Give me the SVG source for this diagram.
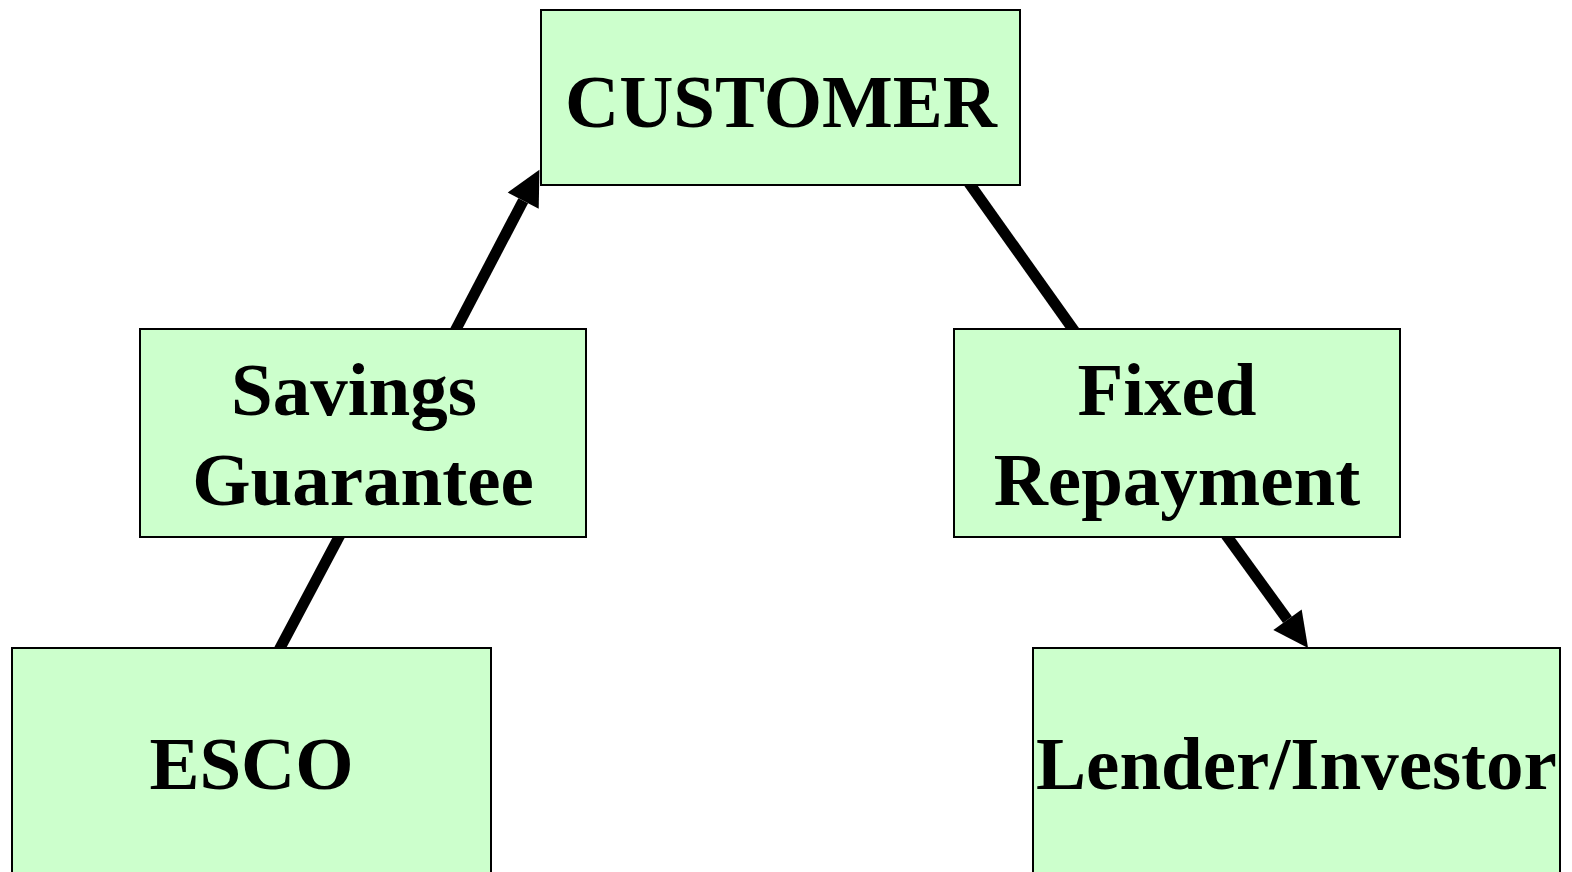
<svg xmlns="http://www.w3.org/2000/svg" width="1572" height="872" viewBox="0 0 1572 872">
  <style>
    .box { fill: #CCFFCC; stroke: #000; stroke-width: 2; }
    .lbl { font-family: "Liberation Serif", "Times New Roman", serif; font-weight: bold; font-size: 75px; fill: #000; text-anchor: middle; }
    .conn { stroke: #000; stroke-width: 11; fill: none; stroke-linecap: butt; }
  </style>
  <defs>
    <marker id="head" markerUnits="userSpaceOnUse" markerWidth="36" markerHeight="36" refX="0" refY="17.5" orient="auto" overflow="visible">
      <path d="M0,0 L35,17.5 L0,35 Z" fill="#000"/>
    </marker>
  </defs>
  <rect width="1572" height="872" fill="#fff"/>

  <!-- connectors -->
  <g id="connectors">
    <line class="conn" x1="279" y1="650" x2="340" y2="535"/>
    <line class="conn" x1="454" y1="333" x2="523.2" y2="200.7" marker-end="url(#head)"/>
    <line class="conn" x1="969" y1="183" x2="1075" y2="332"/>
    <line class="conn" x1="1226" y1="535" x2="1287.5" y2="619.7" marker-end="url(#head)"/>
  </g>

  <g id="customer">
    <rect class="box" x="541" y="10" width="479" height="175"/>
    <text class="lbl" x="781" y="127">CUSTOMER</text>
  </g>
  <g id="savings-guarantee">
    <rect class="box" x="140" y="329" width="446" height="208"/>
    <text class="lbl" x="354" y="415">Savings</text>
    <text class="lbl" x="363" y="505">Guarantee</text>
  </g>
  <g id="fixed-repayment">
    <rect class="box" x="954" y="329" width="446" height="208"/>
    <text class="lbl" x="1167" y="415">Fixed</text>
    <text class="lbl" x="1177" y="505">Repayment</text>
  </g>
  <g id="esco">
    <rect class="box" x="12" y="648" width="479" height="240"/>
    <text class="lbl" x="251.5" y="789">ESCO</text>
  </g>
  <g id="lender-investor">
    <rect class="box" x="1033" y="648" width="527" height="240"/>
    <text class="lbl" x="1296.5" y="789">Lender/Investor</text>
  </g>
</svg>
